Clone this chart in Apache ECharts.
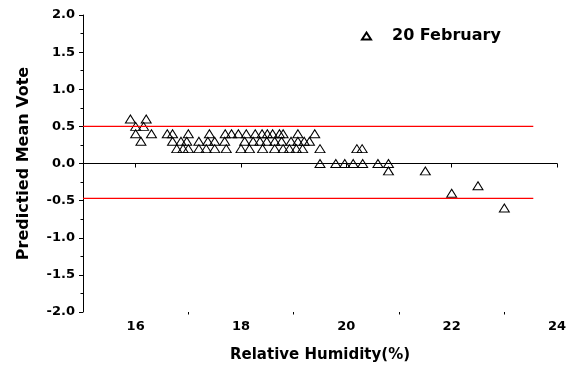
<!DOCTYPE html>
<html><head><meta charset="utf-8">
<script src="https://cdn.jsdelivr.net/npm/echarts@6/dist/echarts.min.js"></script>
<style>html,body{margin:0;padding:0;background:#fff}#c{width:574px;height:370px}</style>
</head><body><div id="c"></div>
<script>
// Relative humidity (%) of each observation
const humidity = [
  15.9, 16.2, 16.0, 16.15, 16.0, 16.3, 16.1,
  16.6, 16.7, 17.0, 17.4, 17.7, 17.82, 17.95, 18.1, 18.27, 18.4, 18.5, 18.6, 18.73, 18.8, 19.08, 19.4,
  16.7, 16.86, 16.97, 17.2, 17.37, 17.5, 17.69, 18.07, 18.23, 18.36, 18.49, 18.64, 18.77, 18.95, 19.08, 19.2, 19.3,
  16.78, 16.9, 17.0, 17.2, 17.34, 17.5, 17.72, 18.0, 18.16, 18.41, 18.64, 18.8, 18.92, 19.05, 19.17, 19.5, 20.2, 20.3,
  19.5, 19.8, 19.97, 20.13, 20.31, 20.6, 20.8,
  20.8, 21.5, 22.0, 22.5, 23.0
];
// Predicted mean vote of each observation
const pmv = [
  0.6, 0.6, 0.5, 0.5, 0.4, 0.4, 0.3,
  0.4, 0.4, 0.4, 0.4, 0.4, 0.4, 0.4, 0.4, 0.4, 0.4, 0.4, 0.4, 0.4, 0.4, 0.4, 0.4,
  0.3, 0.3, 0.3, 0.3, 0.3, 0.3, 0.3, 0.3, 0.3, 0.3, 0.3, 0.3, 0.3, 0.3, 0.3, 0.3, 0.3,
  0.2, 0.2, 0.2, 0.2, 0.2, 0.2, 0.2, 0.2, 0.2, 0.2, 0.2, 0.2, 0.2, 0.2, 0.2, 0.2, 0.2, 0.2,
  0.0, 0.0, 0.0, 0.0, 0.0, 0.0, 0.0,
  -0.1, -0.1, -0.4, -0.3, -0.6
];
const seriesName = '20 February';
const refLevels = [0.5, -0.47];      // comfort band limits (red lines)
const refRange = [15, 23.55];        // x extent of red lines
const xMajorTicks = [16, 18, 20, 22, 24];
const xMinorTicks = [17, 19, 21, 23];

const FONT = 'DejaVu Sans';
const points = humidity.map((h, i) => [h, pmv[i]]);

const refSeries = refLevels.map(lv => ({
  type: 'line', silent: true, symbol: 'none', animation: false,
  data: refRange.map(x => [x, lv]),
  lineStyle: { color: '#ff0000', width: 1.2 }
}));

const chart = echarts.init(document.getElementById('c'), null, { renderer: 'canvas' });
chart.setOption({
  animation: false,
  backgroundColor: '#fff',
  grid: { left: 83, right: 17, top: 15, bottom: 58 },
  legend: {
    data: [seriesName],
    left: 356, top: 23,
    itemWidth: 9, itemHeight: 7,
    textStyle: { fontFamily: FONT, fontWeight: 'bold', fontSize: 16, color: '#000', padding: [0, 0, 0, 16] }
  },
  xAxis: [{
    type: 'value', min: 15, max: 24, position: 'bottom',
    name: 'Relative Humidity(%)', nameLocation: 'middle', nameGap: 36,
    nameTextStyle: { fontFamily: FONT, fontWeight: 'bold', fontSize: 15, color: '#000' },
    axisLine: { show: true, lineStyle: { color: '#000', width: 1 } },
    axisTick: { show: true, customValues: xMajorTicks, length: 4, lineStyle: { color: '#000' } },
    axisLabel: { customValues: xMajorTicks, fontFamily: FONT, fontWeight: 'bold', fontSize: 13, color: '#000', margin: 8 },
    splitLine: { show: false }
  }, {
    type: 'value', min: 15, max: 24, position: 'bottom',
    axisLine: { show: false },
    axisTick: { show: true, customValues: xMinorTicks, length: 2.5, lineStyle: { color: '#000' } },
    axisLabel: { show: false },
    splitLine: { show: false }
  }],
  yAxis: {
    type: 'value', min: -2, max: 2, interval: 0.5,
    name: 'Predictied Mean Vote', nameLocation: 'middle', nameGap: 51,
    nameTextStyle: { fontFamily: FONT, fontWeight: 'bold', fontSize: 16, color: '#000' },
    axisLine: { show: true, lineStyle: { color: '#000', width: 1 } },
    axisTick: { show: true, length: 4, lineStyle: { color: '#000' } },
    minorTick: { show: true, splitNumber: 2, length: 2.5, lineStyle: { color: '#000' } },
    axisLabel: { formatter: v => v.toFixed(1), fontFamily: FONT, fontWeight: 'bold', fontSize: 13, color: '#000', margin: 8 },
    splitLine: { show: false }
  },
  series: [...refSeries, {
    name: seriesName, type: 'scatter', xAxisIndex: 0,
    symbol: 'triangle', symbolSize: [10, 8],
    itemStyle: { color: 'rgba(0,0,0,0)', borderColor: '#000', borderWidth: 1, opacity: 1 },
    data: points
  }]
});
</script></body></html>
